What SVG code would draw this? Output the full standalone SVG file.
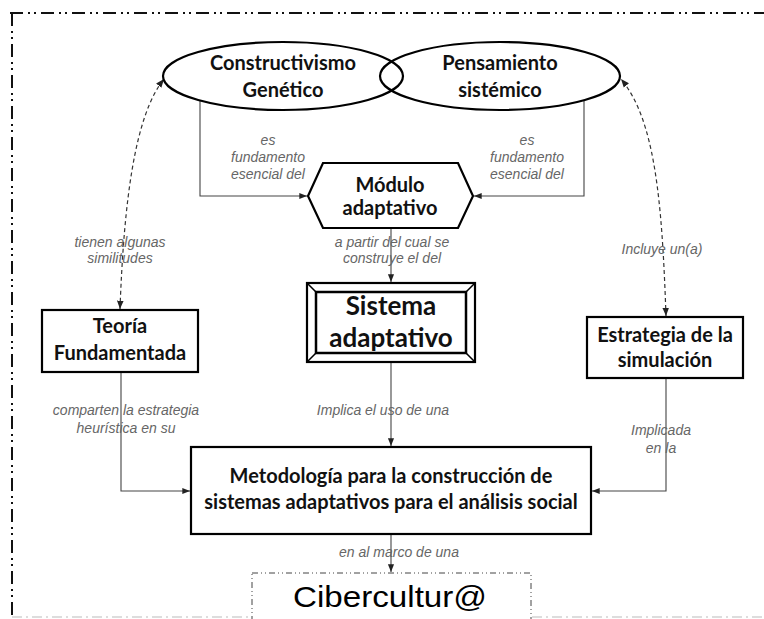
<svg xmlns="http://www.w3.org/2000/svg" width="764" height="619" viewBox="0 0 764 619">
<defs>
<marker id="arr" viewBox="0 0 10 10" refX="10" refY="5" markerWidth="7" markerHeight="7" orient="auto-start-reverse"><path d="M0,1 L10,5 L0,9 z" fill="#222"/></marker>
<style>
.node{fill:#fff;stroke:#000;stroke-width:2.2}
.t{font-family:Lato,"Liberation Sans",sans-serif;font-weight:bold;fill:#111;text-anchor:middle;font-size:20px}
.lbl{font-family:"Liberation Sans",Arial,sans-serif;font-style:italic;font-size:14px;fill:#666;text-anchor:middle}
.con{fill:none;stroke:#444;stroke-width:1.1}
.dash{fill:none;stroke:#333;stroke-width:1.2;stroke-dasharray:4 3}
.frame{fill:none;stroke:#111;stroke-width:2;stroke-dasharray:13 5 2 4 2 5}
</style>
</defs>
<rect x="0" y="0" width="764" height="619" fill="#fff"/>
<g id="frame">
<line class="frame" x1="10" y1="13" x2="764" y2="13"/>
<line class="frame" x1="12" y1="13" x2="12" y2="619"/>
<line x1="12" y1="617" x2="764" y2="617" stroke="#bbb" stroke-width="1" stroke-dasharray="10 4 2 4"/>
</g>
<g id="connectors">
<polyline class="con" points="200,101 200,196 307,196" marker-end="url(#arr)"/>
<polyline class="con" points="584,101 584,196 474,196" marker-end="url(#arr)"/>
<line class="con" x1="391" y1="228" x2="391" y2="282" marker-end="url(#arr)"/>
<line class="con" x1="391" y1="362" x2="391" y2="446" marker-end="url(#arr)"/>
<polyline class="con" points="121,372 121,491 190,491" marker-end="url(#arr)"/>
<polyline class="con" points="666,378 666,491 592,491" marker-end="url(#arr)"/>
<line class="con" x1="391" y1="534" x2="391" y2="572" marker-end="url(#arr)"/>
<path class="dash" d="M120,309 C124,200 135,115 164,79" marker-start="url(#arr)" marker-end="url(#arr)"/>
<path class="dash" d="M666,316 C662,200 655,120 621,79" marker-start="url(#arr)" marker-end="url(#arr)"/>
<text class="lbl" x="268" y="145">es</text>
<text class="lbl" x="268" y="162">fundamento</text>
<text class="lbl" x="268" y="179">esencial del</text>
<text class="lbl" x="527" y="145">es</text>
<text class="lbl" x="527" y="162">fundamento</text>
<text class="lbl" x="527" y="179">esencial del</text>
<text class="lbl" x="392" y="247">a partir del cual se</text>
<text class="lbl" x="392" y="263">construye el del</text>
<text class="lbl" x="120" y="247">tienen algunas</text>
<text class="lbl" x="120" y="263">similitudes</text>
<text class="lbl" x="662" y="254">Incluye un(a)</text>
<text class="lbl" x="126" y="415">comparten la estrategia</text>
<text class="lbl" x="126" y="433">heurística en su</text>
<text class="lbl" x="383" y="415">Implica el uso de una</text>
<text class="lbl" x="661" y="435">Implicada</text>
<text class="lbl" x="661" y="453">en la</text>
<text class="lbl" x="399" y="557">en al marco de una</text>
</g>
<g id="constructivismo">
<ellipse class="node" cx="283" cy="76" rx="120" ry="34" style="fill:none"/>
<text class="t" x="283" y="70">Constructivismo</text>
<text class="t" x="283" y="97">Genético</text>
</g>
<g id="pensamiento">
<ellipse class="node" cx="500" cy="76" rx="120" ry="34" style="fill:none"/>
<text class="t" x="500" y="70">Pensamiento</text>
<text class="t" x="500" y="97">sistémico</text>
</g>
<g id="modulo">
<polygon class="node" points="308,196 323,163 458,163 473,196 458,228 323,228"/>
<text class="t" x="390" y="192">Módulo</text>
<text class="t" x="390" y="215">adaptativo</text>
</g>
<g id="sistema">
<rect class="node" x="307" y="283" width="168" height="79" stroke-width="2.5"/>
<rect x="316" y="292" width="150" height="61" fill="none" stroke="#000" stroke-width="2.5"/>
<path d="M307,283 L316,292 M475,283 L466,292 M307,362 L316,353 M475,362 L466,353" stroke="#000" stroke-width="1.5"/>
<text class="t" x="391" y="315" style="font-size:26px">Sistema</text>
<text class="t" x="391" y="347" style="font-size:26px">adaptativo</text>
</g>
<g id="teoria">
<rect class="node" x="42" y="310" width="156" height="62"/>
<text class="t" x="120" y="333">Teoría</text>
<text class="t" x="120" y="360">Fundamentada</text>
</g>
<g id="estrategia">
<rect class="node" x="587" y="317" width="156" height="61"/>
<text class="t" x="665" y="342">Estrategia de la</text>
<text class="t" x="665" y="367">simulación</text>
</g>
<g id="metodologia">
<rect class="node" x="191" y="447" width="400" height="87"/>
<text class="t" x="391" y="483">Metodología para la construcción de</text>
<text class="t" x="391" y="509">sistemas adaptativos para el análisis social</text>
</g>
<g id="cibercultura">
<rect x="252" y="573" width="279" height="60" fill="#fff" stroke="#444" stroke-width="1" stroke-dasharray="6 3 1 3 1 3"/>
<text x="390" y="607" font-family="'Liberation Sans',Arial,sans-serif" font-size="30" fill="#000" text-anchor="middle" textLength="194" lengthAdjust="spacingAndGlyphs">Cibercultur@</text>
</g>
</svg>
